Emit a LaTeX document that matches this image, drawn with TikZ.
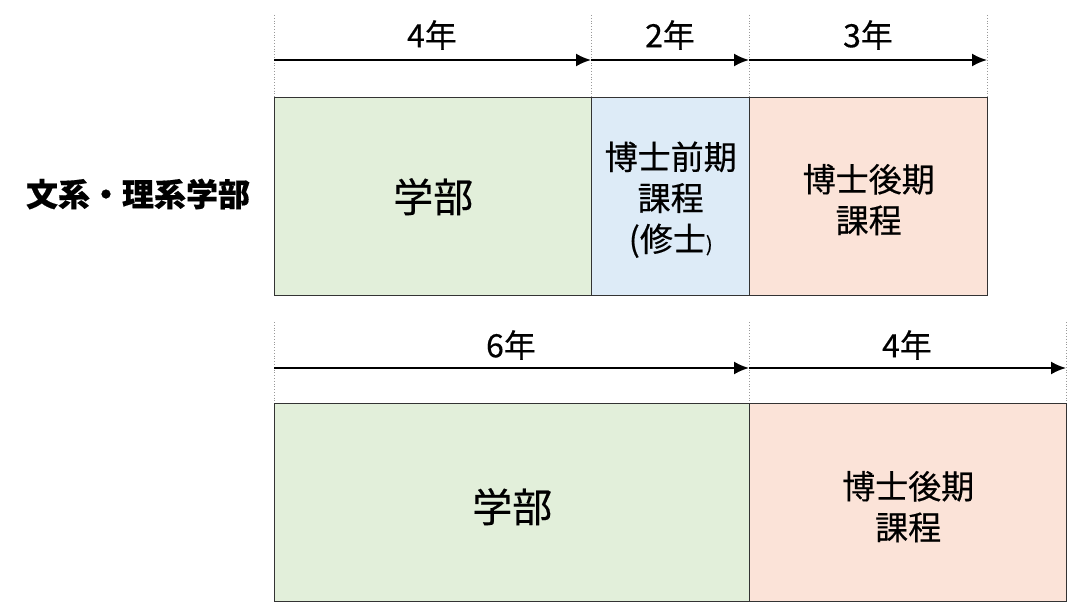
\documentclass[tikz,border=0pt]{standalone}
\usepackage{fontspec}
\setmainfont{Noto Sans CJK JP}[FakeBold=0.4]
\usetikzlibrary{arrows.meta}
\definecolor{bgreen}{HTML}{E2EFDA}
\definecolor{bblue}{HTML}{DDEBF7}
\definecolor{bpink}{HTML}{FBE3D8}
\definecolor{edge}{HTML}{333333}
\tikzset{
  box/.style={draw=edge, line width=1.4pt, anchor=north west, inner sep=0pt, align=center, text=black},
  guide/.style={draw=gray!80, line width=0.8pt, dotted},
  arr/.style={draw=black, line width=2pt, -{Latex[length=15pt,width=13pt]}},
  yr/.style={font=\fontsize{32}{32}\selectfont, text=black},
  btxt/.style={font=\fontsize{33}{41}\selectfont},
  big/.style={font=\fontsize{40}{40}\selectfont}
}
\begin{document}
\begin{tikzpicture}[x=1pt,y=-1pt]
\useasboundingbox[fill=white] (0,0) rectangle (1080,602);
% top guides
\coordinate (ga0) at (274,15); \coordinate (gb0) at (274,97);
\coordinate (ga1) at (591,15); \coordinate (gb1) at (591,97);
\coordinate (ga2) at (749,15); \coordinate (gb2) at (749,97);
\coordinate (ga3) at (987,15); \coordinate (gb3) at (987,97);
\foreach \i in {0,1,2,3} \draw[guide] (ga\i) -- (gb\i);
\coordinate (a0) at (274,60); \coordinate (a1) at (591,60);
\coordinate (a2) at (749,60); \coordinate (a3) at (987,60);
\draw[arr] (a0) -- (a1);
\draw[arr] (a1) -- (a2);
\draw[arr] (a2) -- (a3);
\node[yr] (y1) at (432,35) {4年};
\node[yr] (y2) at (670,35) {2年};
\node[yr] (y3) at (868,35) {3年};
% top boxes
\node[box, fill=bgreen, minimum width=317pt, minimum height=198pt] (b1) at (274,97) {};
\node[box, fill=bblue, minimum width=158pt, minimum height=198pt] (b2) at (591,97) {};
\node[box, fill=bpink, minimum width=238pt, minimum height=198pt] (b3) at (749,97) {};
\node[big] (t1) at (b1.center) {学部};
\node[btxt, align=center] (t2) at ([yshift=-3pt]b2.center) {博士前期\\課程\\(修士{\fontsize{20}{20}\selectfont)}};
\node[btxt, align=center] (t3) at ([yshift=-3pt]b3.center) {博士後期\\課程};
\node[font=\fontsize{32}{32}\selectfont\bfseries] (lab) at (138,194) {文系・理系学部};
% bottom guides
\coordinate (gc0) at (274,322); \coordinate (gd0) at (274,403);
\coordinate (gc1) at (749,322); \coordinate (gd1) at (749,403);
\coordinate (gc2) at (1066,322); \coordinate (gd2) at (1066,403);
\foreach \i in {0,1,2} \draw[guide] (gc\i) -- (gd\i);
\coordinate (c0) at (274,368); \coordinate (c1) at (749,368); \coordinate (c2) at (1066,368);
\draw[arr] (c0) -- (c1);
\draw[arr] (c1) -- (c2);
\node[yr] (y4) at (511,345) {6年};
\node[yr] (y5) at (907,345) {4年};
\node[box, fill=bgreen, minimum width=475pt, minimum height=198pt] (b4) at (274,403) {};
\node[box, fill=bpink, minimum width=317pt, minimum height=198pt] (b5) at (749,403) {};
\node[big] (t4) at ([yshift=-4pt]b4.center) {学部};
\node[btxt, align=center] (t5) at ([yshift=-4pt]b5.center) {博士後期\\課程};
\end{tikzpicture}
\end{document}
